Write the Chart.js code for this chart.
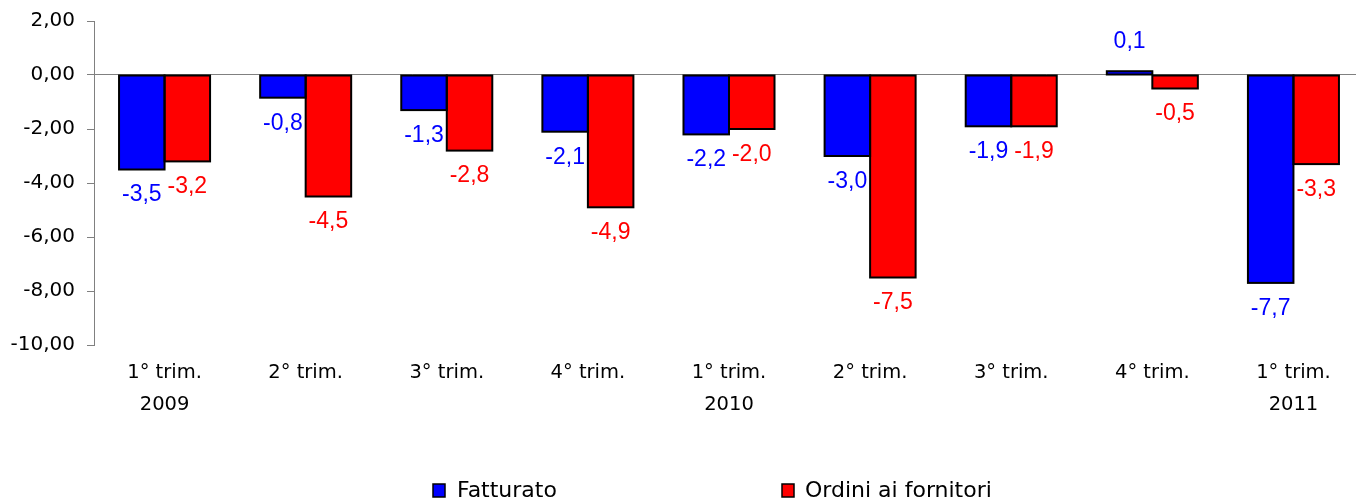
<!DOCTYPE html>
<html>
<head>
<meta charset="utf-8">
<script src="https://cdn.jsdelivr.net/npm/chart.js@4"></script>
<style>
  html, body { margin: 0; padding: 0; background: #fff; overflow: hidden; }
  #wrap { width: 1364px; height: 502px; position: relative; }
</style>
</head>
<body>
<div id="wrap"><canvas id="c"></canvas></div>
<script>
const quarters = ["1° trim.", "2° trim.", "3° trim.", "4° trim.", "1° trim.", "2° trim.", "3° trim.", "4° trim.", "1° trim."];
const years = ["2009", "", "", "", "2010", "", "", "", "2011"];
const fatturato = [-3.5, -0.84, -1.3, -2.1, -2.2, -3.0, -1.9, 0.14, -7.7];
const ordini = [-3.2, -4.5, -2.8, -4.9, -2.0, -7.5, -1.9, -0.5, -3.3];
const seriesNames = ["Fatturato", "Ordini ai fornitori"];
const seriesColors = ["#0000FF", "#FF0000"];
const yTicks = [2, 0, -2, -4, -6, -8, -10];

const ARIAL = "'Liberation Sans', Arial, sans-serif";
const WIDE = "'DejaVu Sans', sans-serif";

const labels = quarters.map((q, i) => years[i] ? [q, years[i]] : [q]);

const fmt = v => v.toFixed(1).replace('.', ',');

const barsAndLabels = {
  id: 'barsAndLabels',
  afterDatasetsDraw(chart) {
    const ctx = chart.ctx;
    ctx.save();
    ctx.strokeStyle = '#000';
    ctx.lineWidth = 2;
    chart.data.datasets.forEach((ds, di) => {
      const meta = chart.getDatasetMeta(di);
      meta.data.forEach(el => {
        const p = el.getProps(['x', 'y', 'base', 'width'], true);
        ctx.strokeRect(p.x - p.width / 2, Math.min(p.y, p.base), p.width, Math.abs(p.base - p.y));
      });
    });
    ctx.font = "23px " + ARIAL;
    ctx.textAlign = 'center';
    ctx.textBaseline = 'middle';
    chart.data.datasets.forEach((ds, di) => {
      const meta = chart.getDatasetMeta(di);
      ctx.fillStyle = ds.backgroundColor;
      meta.data.forEach((el, i) => {
        const v = ds.data[i];
        const y = v < 0 ? el.y + 25.5 : el.y - 30;
        ctx.fillText(fmt(v), el.x, y);
      });
    });
    ctx.restore();
  }
};

const customLegend = {
  id: 'customLegend',
  afterDraw(chart) {
    const ctx = chart.ctx;
    const items = [
      { boxX: 433, textX: 457 },
      { boxX: 782, textX: 805 }
    ];
    const cy = 491;
    ctx.save();
    ctx.font = "22px " + WIDE;
    ctx.textBaseline = 'middle';
    ctx.textAlign = 'left';
    items.forEach((it, i) => {
      ctx.fillStyle = seriesColors[i];
      ctx.fillRect(it.boxX, cy - 7, 12, 13);
      ctx.strokeStyle = '#000';
      ctx.lineWidth = 1.5;
      ctx.strokeRect(it.boxX, cy - 7, 12, 13);
      ctx.fillStyle = '#000';
      ctx.fillText(seriesNames[i], it.textX, cy);
    });
    ctx.restore();
  }
};

new Chart(document.getElementById('c'), {
  type: 'bar',
  data: {
    labels: labels,
    datasets: [
      { label: seriesNames[0], data: fatturato, backgroundColor: seriesColors[0], borderWidth: 0 },
      { label: seriesNames[1], data: ordini, backgroundColor: seriesColors[1], borderWidth: 0 }
    ]
  },
  options: {
    responsive: true,
    maintainAspectRatio: false,
    animation: false,
    datasets: { bar: { categoryPercentage: 0.645, barPercentage: 1.0 } },
    layout: { padding: { top: 21, bottom: 77, left: 0, right: 0 } },
    plugins: {
      legend: { display: false },
      tooltip: { enabled: false }
    },
    scales: {
      x: {
        grid: { display: false, drawTicks: false },
        border: { display: false },
        ticks: {
          color: '#000',
          font: { family: WIDE, size: 19.5, lineHeight: 1.64 },
          padding: 12,
          maxRotation: 0,
          autoSkip: false
        },
        afterFit(scale) { scale.height = 80; scale.paddingLeft = 0; scale.paddingRight = 0; }
      },
      y: {
        min: -10,
        max: 2,
        afterBuildTicks(scale) { scale.ticks = yTicks.map(v => ({ value: v })); },
        grid: {
          color: ctx => (ctx.tick && ctx.tick.value === 0) ? '#808080' : 'rgba(0,0,0,0)',
          tickColor: '#808080',
          tickLength: 7,
          lineWidth: 1
        },
        border: { display: true, color: '#808080', width: 1 },
        ticks: {
          color: '#000',
          font: { family: WIDE, size: 20 },
          padding: 12,
          callback: v => v.toFixed(2).replace('.', ',')
        },
        afterFit(scale) { scale.width = 94; scale.paddingTop = 0; scale.paddingBottom = 0; }
      }
    }
  },
  plugins: [barsAndLabels, customLegend]
});
</script>
</body>
</html>
